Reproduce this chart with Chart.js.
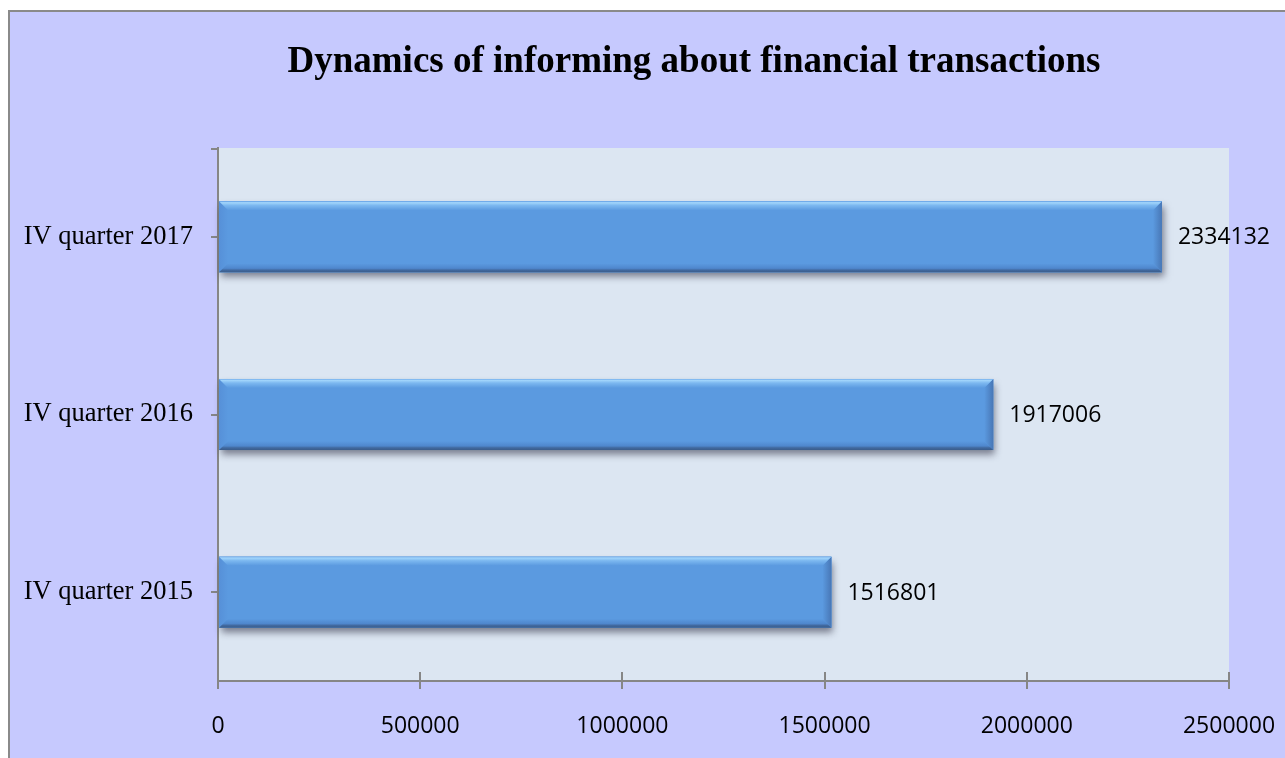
<!DOCTYPE html>
<html>
<head>
<meta charset="utf-8">
<script src="https://cdn.jsdelivr.net/npm/chart.js@4/dist/chart.umd.min.js"></script>
<style>
  html, body { margin: 0; padding: 0; background: #ffffff; overflow: hidden; width: 1285px; height: 758px; }
  #frame { position: absolute; left: 8px; top: 10px; width: 1400px; height: 800px;
           border-left: 2px solid #8a8a8a; border-top: 2px solid #8a8a8a; background: #c6c9fe; }
  #c { position: absolute; left: 0; top: 0; }
</style>
</head>
<body>
<div id="frame"><canvas id="c" width="1368" height="760"></canvas></div>
<script>
// ---- data ----
const categories = ['IV quarter 2015', 'IV quarter 2016', 'IV quarter 2017'];
const values = [1516801, 1917006, 2334132];
const xTicks = [0, 500000, 1000000, 1500000, 2000000, 2500000];
const titleText = 'Dynamics of informing about financial transactions';

const AXIS = '#868686';
const BAR = '#5b9ae0';
const SANS = '"Open Sans", "Noto Sans", sans-serif';
const SERIF = '"Liberation Serif", "Times New Roman", serif';

const plotBg = {
  id: 'plotBg',
  beforeDraw(chart) {
    const { ctx, chartArea: a } = chart;
    ctx.save();
    ctx.fillStyle = '#dce6f2';
    ctx.fillRect(a.left, a.top, a.right - a.left, a.bottom - a.top);
    ctx.restore();
  }
};

// chart title, centred over the whole chart object (which runs past the window edge)
const chartTitle = {
  id: 'chartTitle',
  afterDraw(chart) {
    const ctx = chart.ctx;
    ctx.save();
    ctx.font = 'bold 37px ' + SERIF;
    ctx.fillStyle = '#000000';
    ctx.textAlign = 'center';
    ctx.textBaseline = 'alphabetic';
    ctx.fillText(titleText, chart.width / 2, 60);
    ctx.restore();
  }
};

function barBox(el) {
  const p = el.getProps(['x', 'y', 'base', 'height'], true);
  const left = Math.min(p.base, p.x), right = Math.max(p.base, p.x);
  return { left, right, top: p.y - p.height / 2, bottom: p.y + p.height / 2, cy: p.y, endX: p.x };
}

const bevelBars = {
  id: 'bevelBars',
  beforeDatasetsDraw(chart) {
    const ctx = chart.ctx;
    chart.getDatasetMeta(0).data.forEach(el => {
      const b = barBox(el);
      ctx.save();
      ctx.shadowColor = 'rgba(40,40,60,0.55)';
      ctx.shadowBlur = 7;
      ctx.shadowOffsetX = 2;
      ctx.shadowOffsetY = 5;
      ctx.fillStyle = BAR;
      ctx.fillRect(b.left, b.top, b.right - b.left, b.bottom - b.top);
      ctx.restore();
    });
  },
  afterDatasetsDraw(chart) {
    const ctx = chart.ctx;
    const s = 9;
    chart.getDatasetMeta(0).data.forEach(el => {
      const { left, right, top, bottom } = barBox(el);
      ctx.save();
      let g = ctx.createLinearGradient(left, 0, left + s, 0);
      g.addColorStop(0, '#5690d8'); g.addColorStop(1, BAR);
      ctx.fillStyle = g;
      ctx.beginPath();
      ctx.moveTo(left, top); ctx.lineTo(left + s, top + s); ctx.lineTo(left + s, bottom - s); ctx.lineTo(left, bottom);
      ctx.closePath(); ctx.fill();
      g = ctx.createLinearGradient(right - s, 0, right, 0);
      g.addColorStop(0, BAR); g.addColorStop(1, '#4877b6');
      ctx.fillStyle = g;
      ctx.beginPath();
      ctx.moveTo(right, top); ctx.lineTo(right - s, top + s); ctx.lineTo(right - s, bottom - s); ctx.lineTo(right, bottom);
      ctx.closePath(); ctx.fill();
      g = ctx.createLinearGradient(0, top, 0, top + s);
      g.addColorStop(0, '#6ea9eb'); g.addColorStop(0.15, '#a2d5fb'); g.addColorStop(0.45, '#7cb8f0'); g.addColorStop(1, BAR);
      ctx.fillStyle = g;
      ctx.beginPath();
      ctx.moveTo(left, top); ctx.lineTo(right, top); ctx.lineTo(right - s, top + s); ctx.lineTo(left + s, top + s);
      ctx.closePath(); ctx.fill();
      g = ctx.createLinearGradient(0, bottom - s, 0, bottom);
      g.addColorStop(0, BAR); g.addColorStop(0.55, '#4f87cd'); g.addColorStop(0.75, '#41699f'); g.addColorStop(1, '#3a5c8a');
      ctx.fillStyle = g;
      ctx.beginPath();
      ctx.moveTo(left, bottom); ctx.lineTo(right, bottom); ctx.lineTo(right - s, bottom - s); ctx.lineTo(left + s, bottom - s);
      ctx.closePath(); ctx.fill();
      ctx.restore();
    });
  }
};

const valueLabels = {
  id: 'valueLabels',
  afterDatasetsDraw(chart) {
    const ctx = chart.ctx;
    const ds = chart.data.datasets[0];
    ctx.save();
    ctx.font = '23px ' + SANS;
    ctx.fillStyle = '#000000';
    ctx.textAlign = 'left';
    ctx.textBaseline = 'middle';
    chart.getDatasetMeta(0).data.forEach((el, i) => {
      const b = barBox(el);
      ctx.fillText(String(ds.data[i]), b.endX + 16, b.cy + 1);
    });
    ctx.restore();
  }
};

const innerTicks = {
  id: 'innerTicks',
  afterDraw(chart) {
    const ctx = chart.ctx;
    const xs = chart.scales.x;
    const a = chart.chartArea;
    ctx.save();
    ctx.strokeStyle = AXIS;
    ctx.lineWidth = 2;
    ctx.beginPath();
    xs.ticks.forEach(t => {
      const px = Math.round(xs.getPixelForValue(t.value));
      ctx.moveTo(px, a.bottom);
      ctx.lineTo(px, a.bottom - 9);
    });
    ctx.moveTo(a.left, a.top + 1);
    ctx.lineTo(a.left - 7, a.top + 1);
    ctx.stroke();
    ctx.restore();
  }
};

new Chart(document.getElementById('c'), {
  type: 'bar',
  data: {
    labels: categories,
    datasets: [{
      data: values,
      backgroundColor: BAR,
      borderWidth: 0,
      barPercentage: 0.4,
      categoryPercentage: 1.0
    }]
  },
  options: {
    indexAxis: 'y',
    responsive: false,
    animation: false,
    layout: { padding: { left: 0, right: 149, top: 136, bottom: 0 } },
    plugins: {
      legend: { display: false },
      tooltip: { enabled: false },
      title: { display: false }
    },
    scales: {
      x: {
        type: 'linear',
        min: 0,
        max: 2500000,
        afterBuildTicks(scale) { scale.ticks = xTicks.map(v => ({ value: v })); },
        afterFit(scale) { scale.height = 91; },
        grid: { drawOnChartArea: false, drawTicks: true, tickLength: 8, color: AXIS, lineWidth: 2 },
        border: { display: true, color: AXIS, width: 2 },
        ticks: {
          color: '#000000',
          font: { family: SANS, size: 23 },
          padding: 24,
          maxRotation: 0,
          autoSkip: false,
          callback: v => String(v)
        }
      },
      y: {
        type: 'category',
        reverse: true,
        offset: true,
        afterFit(scale) { scale.width = 208; },
        grid: { drawOnChartArea: false, offset: false, drawTicks: true, tickLength: 7, color: AXIS, lineWidth: 2 },
        border: { display: true, color: AXIS, width: 2 },
        ticks: {
          color: '#000000',
          font: { family: SERIF, size: 26.5 },
          padding: 18
        }
      }
    }
  },
  plugins: [plotBg, bevelBars, valueLabels, innerTicks, chartTitle]
});
</script>
</body>
</html>
